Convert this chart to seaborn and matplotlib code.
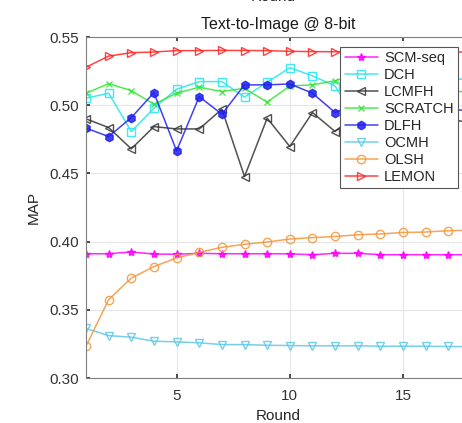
import numpy as np
import pandas as pd
import seaborn as sns
import matplotlib.pyplot as plt

# --- data (MAP per round) ---
ROUNDS = list(range(1, 19))
SCM_SEQ = [0.3911, 0.3911, 0.3924, 0.3909, 0.3907, 0.3914, 0.3911, 0.3911, 0.3911,
           0.3910, 0.3904, 0.3914, 0.3914, 0.3904, 0.3904, 0.3904, 0.3904, 0.3904]
DCH = [0.5051, 0.5088, 0.4807, 0.4978, 0.5117, 0.5173, 0.5173, 0.5059, 0.5168,
       0.5275, 0.5215, 0.5141, 0.4880, 0.5000, 0.5100, 0.5150, 0.5180, 0.5200]
LCMFH = [0.4900, 0.4836, 0.4680, 0.4843, 0.4826, 0.4826, 0.4971, 0.4477, 0.4905,
         0.4697, 0.4946, 0.4807, 0.4950, 0.4850, 0.4900, 0.4800, 0.4900, 0.4870]
SCRATCH = [0.5088, 0.5158, 0.5107, 0.5007, 0.5088, 0.5132, 0.5100, 0.5124, 0.5022,
           0.5141, 0.5149, 0.5180, 0.5220, 0.5180, 0.5150, 0.5120, 0.5100, 0.5100]
DLFH = [0.4832, 0.4770, 0.4909, 0.5092, 0.4665, 0.5063, 0.4934, 0.5149, 0.5149,
        0.5156, 0.5088, 0.4946, 0.5020, 0.5050, 0.5000, 0.4980, 0.4970, 0.4960]
OCMH = [0.3363, 0.3311, 0.3299, 0.3270, 0.3265, 0.3258, 0.3245, 0.3245, 0.3240,
        0.3238, 0.3236, 0.3236, 0.3236, 0.3233, 0.3233, 0.3233, 0.3231, 0.3230]
OLSH = [0.3233, 0.3575, 0.3732, 0.3817, 0.3880, 0.3921, 0.3958, 0.3980, 0.3997,
        0.4019, 0.4029, 0.4038, 0.4050, 0.4056, 0.4067, 0.4070, 0.4080, 0.4083]
LEMON = [0.5278, 0.5360, 0.5385, 0.5390, 0.5400, 0.5400, 0.5402, 0.5401, 0.5400,
         0.5395, 0.5393, 0.5392, 0.5392, 0.5392, 0.5391, 0.5391, 0.5391, 0.5390]

# name, values, color, marker, filled
SERIES = [
    ("SCM-seq", SCM_SEQ, "#ff00ff", "*", True),
    ("DCH", DCH, "#22e6ee", "s", False),
    ("LCMFH", LCMFH, "#333333", "<", False),
    ("SCRATCH", SCRATCH, "#33e633", "x", True),
    ("DLFH", DLFH, "#2020ee", "h", True),
    ("OCMH", OCMH, "#5cc8e6", "v", False),
    ("OLSH", OLSH, "#f5953a", "o", False),
    ("LEMON", LEMON, "#ff2222", ">", False),
]

sns.set_theme(style="whitegrid")
plt.rcParams['font.family'] = ['Liberation Sans', 'DejaVu Sans']

fig = plt.figure(figsize=(4.62, 4.23), dpi=100)
ax = fig.add_axes([86 / 462, 45 / 423, 385 / 462, 341 / 423])

for name, vals, col, mk, filled in SERIES:
    df = pd.DataFrame({"Round": ROUNDS, "MAP": vals})
    sns.lineplot(data=df, x="Round", y="MAP", ax=ax, color=col, marker=mk,
                 markersize=6 if mk != "x" else 4, linewidth=1.1, label=name,
                 markerfacecolor=col if filled else "none", markeredgecolor=col,
                 markeredgewidth=1.0, alpha=0.85)

ax.set_xlim(1, 18)
ax.set_ylim(0.30, 0.55)
ax.set_xticks([5, 10, 15])
ax.set_yticks(np.arange(0.30, 0.551, 0.05))
ax.set_yticklabels([f"{v:.2f}" for v in np.arange(0.30, 0.551, 0.05)])
ax.set_xlabel("Round", fontsize=11, color="#262626", labelpad=4)
ax.set_ylabel("MAP", fontsize=11, color="#262626", labelpad=6)
ax.set_title("Text-to-Image @ 8-bit", fontsize=11.5, color="#1a1a1a", pad=6)
ax.tick_params(labelsize=11, colors="#333333", direction="in", length=3,
               top=True, right=True, bottom=True, left=True, pad=5)
ax.tick_params(axis="x", pad=8)
ax.grid(True, color="#e6e6e6", linewidth=0.8)
ax.set_facecolor("white")
for s in ax.spines.values():
    s.set_color("#7f7f7f")
    s.set_linewidth(0.8)

leg = ax.legend(loc="upper right", bbox_to_anchor=(458 / 462, 1 - 47 / 423),
                bbox_transform=fig.transFigure, fontsize=10.5, frameon=True,
                fancybox=False, handlelength=2.3, borderpad=0.3, labelspacing=0.2,
                handletextpad=0.4, borderaxespad=0)
leg.get_frame().set_edgecolor("#555555")
leg.get_frame().set_linewidth(0.8)
leg.get_frame().set_alpha(1)

# heading of the panel above, cut off at the top edge
fig.text(273 / 462, 1 - 1 / 423, "Round", ha="center", va="baseline",
         fontsize=11, color="#262626")

fig.savefig("out.png", dpi=100)
